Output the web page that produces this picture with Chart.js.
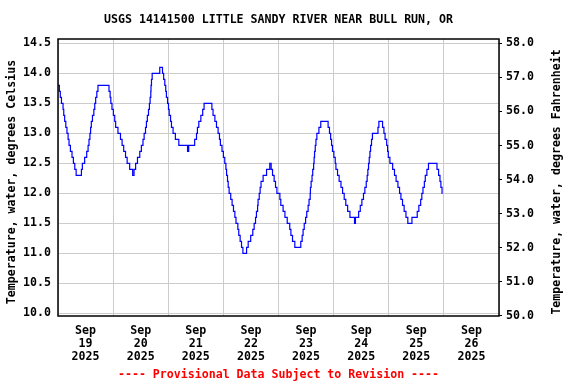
<!DOCTYPE html>
<html>
<head>
<meta charset="utf-8">
<script src="https://cdn.jsdelivr.net/npm/chart.js@4/dist/chart.umd.min.js"></script>
<style>
  body { margin: 0; background: #fff; }
  canvas { display: block; }
</style>
</head>
<body>
<canvas id="tempChart" width="576" height="384"></canvas>
<script>
// hours since Sep 19 2025 00:00 where the reading changes, and the reading (deg C)
const hours = [
    0.0, 0.6, 1.0, 1.5, 2.2, 2.5, 2.9, 3.4, 3.9, 4.4, 4.8, 5.4, 6.1, 6.7, 7.3, 7.9,
    10.2, 10.6, 11.6, 12.5, 13.1, 13.5, 13.9, 14.2, 14.5, 15.0, 15.6, 16.0, 16.4, 16.9, 17.4,
    22.2, 22.7, 23.0, 23.5, 24.1, 24.7, 25.1, 26.1, 27.2, 27.9, 28.6, 29.4, 30.1, 31.2, 32.5,
    33.1, 33.8, 34.6, 35.6, 36.3, 37.0, 37.5, 38.1, 38.5, 38.9, 39.4, 39.8, 40.1, 40.4, 40.5, 40.7, 41.0,
    44.3, 45.5, 46.0, 46.5, 46.9, 47.2, 47.7, 48.1, 48.4, 49.0, 49.4, 50.1, 51.1, 52.6, 56.4, 56.9,
    59.5, 60.3, 60.7, 61.3, 62.2, 63.0, 63.6,
    67.0, 67.5, 68.3, 69.0, 69.7, 70.3, 70.7, 71.4, 72.0, 72.6, 73.1, 73.4, 73.8, 74.1, 74.5,
    75.2, 75.8, 76.4, 77.0, 77.5, 78.3, 78.7, 79.3, 79.9, 80.5,
    82.1, 82.8, 83.9, 84.8, 85.4, 86.0, 86.4, 86.9, 87.1, 87.6, 88.0, 88.4, 89.3, 90.8, 92.2,
    92.8, 93.4, 94.1, 94.7, 95.3, 96.6, 97.0, 98.0, 98.8, 99.8, 100.9, 101.4, 102.1, 103.1,
    105.7, 106.3, 106.7, 107.2, 107.8, 108.3, 108.9, 109.3, 109.8, 109.9, 110.2, 110.6, 110.9,
    111.3, 111.5, 111.7, 112.0, 112.3, 112.7, 113.6, 114.4,
    117.6, 118.2, 118.7, 119.1, 119.5, 120.1, 120.7, 121.0, 121.7, 122.4, 123.2, 123.9, 124.6,
    125.3, 126.1, 127.1, 129.1,
    129.5, 130.9, 131.6, 132.3, 133.0, 133.6, 134.2, 134.6, 134.9, 135.2, 135.5, 135.8, 136.1,
    136.5, 136.9, 139.3, 139.7,
    141.3, 141.9, 142.4, 143.1, 143.5, 143.8, 144.5, 145.7, 146.5, 147.2, 148.0, 148.7, 149.3,
    150.0, 150.7, 151.5, 152.3,
    154.1, 156.4, 157.1, 157.9, 158.4, 158.9, 159.5, 159.9, 160.6, 161.3,
    165.0, 165.7, 166.3, 166.7, 167.2, 167.4
];
const tempC = [
    13.8, 13.7, 13.6, 13.5, 13.4, 13.3, 13.2, 13.1, 13.0, 12.9, 12.8, 12.7, 12.6, 12.5, 12.4, 12.3,
    12.4, 12.5, 12.6, 12.7, 12.8, 12.9, 13.0, 13.1, 13.2, 13.3, 13.4, 13.5, 13.6, 13.7, 13.8,
    13.7, 13.6, 13.5, 13.4, 13.3, 13.2, 13.1, 13.0, 12.9, 12.8, 12.7, 12.6, 12.5, 12.4, 12.3,
    12.4, 12.5, 12.6, 12.7, 12.8, 12.9, 13.0, 13.1, 13.2, 13.3, 13.4, 13.5, 13.6, 13.7, 13.8, 13.9, 14.0,
    14.1, 14.0, 13.9, 13.8, 13.7, 13.6, 13.5, 13.4, 13.3, 13.2, 13.1, 13.0, 12.9, 12.8, 12.7, 12.8,
    12.9, 13.0, 13.1, 13.2, 13.3, 13.4, 13.5,
    13.4, 13.3, 13.2, 13.1, 13.0, 12.9, 12.8, 12.7, 12.6, 12.5, 12.4, 12.3, 12.2, 12.1, 12.0,
    11.9, 11.8, 11.7, 11.6, 11.5, 11.4, 11.3, 11.2, 11.1, 11.0,
    11.1, 11.2, 11.3, 11.4, 11.5, 11.6, 11.7, 11.8, 11.9, 12.0, 12.1, 12.2, 12.3, 12.4, 12.5,
    12.4, 12.3, 12.2, 12.1, 12.0, 11.9, 11.8, 11.7, 11.6, 11.5, 11.4, 11.3, 11.2, 11.1,
    11.2, 11.3, 11.4, 11.5, 11.6, 11.7, 11.8, 11.9, 12.0, 12.1, 12.2, 12.3, 12.4,
    12.5, 12.6, 12.7, 12.8, 12.9, 13.0, 13.1, 13.2,
    13.1, 13.0, 12.9, 12.8, 12.7, 12.6, 12.5, 12.4, 12.3, 12.2, 12.1, 12.0, 11.9,
    11.8, 11.7, 11.6, 11.5,
    11.6, 11.7, 11.8, 11.9, 12.0, 12.1, 12.2, 12.3, 12.4, 12.5, 12.6, 12.7, 12.8,
    12.9, 13.0, 13.1, 13.2,
    13.1, 13.0, 12.9, 12.8, 12.7, 12.6, 12.5, 12.4, 12.3, 12.2, 12.1, 12.0, 11.9,
    11.8, 11.7, 11.6, 11.5,
    11.6, 11.7, 11.8, 11.9, 12.0, 12.1, 12.2, 12.3, 12.4, 12.5,
    12.4, 12.3, 12.2, 12.1, 12.0, 12.0
];

const dayLabels = [
    ['Sep', '19', '2025'], ['Sep', '20', '2025'], ['Sep', '21', '2025'], ['Sep', '22', '2025'],
    ['Sep', '23', '2025'], ['Sep', '24', '2025'], ['Sep', '25', '2025'], ['Sep', '26', '2025']
];
const celsiusTicks = [10.0, 10.5, 11.0, 11.5, 12.0, 12.5, 13.0, 13.5, 14.0, 14.5];
const fahrenheitTicks = [50, 51, 52, 53, 54, 55, 56, 57, 58];

const titleText = 'USGS 14141500 LITTLE SANDY RIVER NEAR BULL RUN, OR';
const leftTitle = 'Temperature, water, degrees Celsius';
const rightTitle = 'Temperature, water, degrees Fahrenheit';
const footText = '---- Provisional Data Subject to Revision ----';

const monoFont = { family: '"DejaVu Sans Mono", monospace', size: 11.6, weight: 'bold' };
const fontStr = 'bold 11.6px "DejaVu Sans Mono", monospace';

// x axis: ticks every 12 h, grid at midnight, label at noon
const xTicks = [];
for (let h = 0; h <= 192; h += 12) xTicks.push(h);

const points = hours.map((h, i) => ({ x: h, y: tempC[i] }));

// frame and text around the plot
const decorPlugin = {
    id: 'decor',
    afterDraw(chart) {
        const { ctx, chartArea: a } = chart;
        const midX = (a.left + a.right) / 2;
        ctx.save();
        ctx.strokeStyle = '#000';
        ctx.lineWidth = 1.5;
        ctx.strokeRect(a.left, a.top, a.right - a.left, a.bottom - a.top);

        ctx.font = fontStr;
        ctx.textAlign = 'center';
        ctx.textBaseline = 'middle';
        ctx.fillStyle = '#000';
        ctx.fillText(titleText, midX, 20);

        ctx.fillStyle = '#ff0000';
        ctx.fillText(footText, midX, 375);

        ctx.fillStyle = '#000';
        ctx.save();
        ctx.translate(12, 182);
        ctx.rotate(-Math.PI / 2);
        ctx.fillText(leftTitle, 0, 0);
        ctx.restore();

        ctx.save();
        ctx.translate(557, 182);
        ctx.rotate(-Math.PI / 2);
        ctx.fillText(rightTitle, 0, 0);
        ctx.restore();
        ctx.restore();
    }
};

const chartCtx = document.getElementById('tempChart');

new Chart(chartCtx, {
    type: 'line',
    data: {
        datasets: [{
            label: 'Temperature',
            data: points,
            borderColor: '#0000ff',
            borderWidth: 1.2,
            pointRadius: 0,
            stepped: true,
            fill: false,
            yAxisID: 'y'
        }]
    },
    options: {
        responsive: false,
        animation: false,
        layout: {
            padding: { top: 39, bottom: 18, left: 0, right: 0 }
        },
        plugins: {
            legend: { display: false },
            tooltip: { enabled: false },
            title: { display: false }
        },
        scales: {
            x: {
                type: 'linear',
                min: 0,
                max: 192,
                afterBuildTicks: (scale) => { scale.ticks = xTicks.map(v => ({ value: v })); },
                afterFit: (scale) => { scale.height = 50; },
                border: { display: false },
                grid: {
                    drawTicks: false,
                    color: (c) => (c.tick && c.tick.value % 24 === 0) ? '#cccccc' : 'rgba(0,0,0,0)'
                },
                ticks: {
                    autoSkip: false,
                    maxRotation: 0,
                    padding: 9,
                    color: '#000',
                    font: Object.assign({ lineHeight: 1.1 }, monoFont),
                    callback: (v) => (v % 24 === 12) ? dayLabels[(v - 12) / 24] : ''
                }
            },
            y: {
                position: 'left',
                min: 9.955,
                max: 14.572,
                afterBuildTicks: (scale) => { scale.ticks = celsiusTicks.map(v => ({ value: v })); },
                afterFit: (scale) => { scale.width = 58; },
                border: { display: false },
                grid: { color: '#cccccc', drawTicks: false },
                ticks: {
                    padding: 7,
                    color: '#000',
                    font: monoFont,
                    callback: (v) => v.toFixed(1)
                }
            },
            y1: {
                position: 'right',
                min: 49.99,
                max: 58.13,
                afterBuildTicks: (scale) => { scale.ticks = fahrenheitTicks.map(v => ({ value: v })); },
                afterFit: (scale) => { scale.width = 77; },
                border: { display: false },
                grid: { drawOnChartArea: false, color: '#000', tickLength: 3 },
                ticks: {
                    padding: 4,
                    color: '#000',
                    font: monoFont,
                    callback: (v) => v.toFixed(1)
                }
            }
        }
    },
    plugins: [decorPlugin]
});
</script>
</body>
</html>
